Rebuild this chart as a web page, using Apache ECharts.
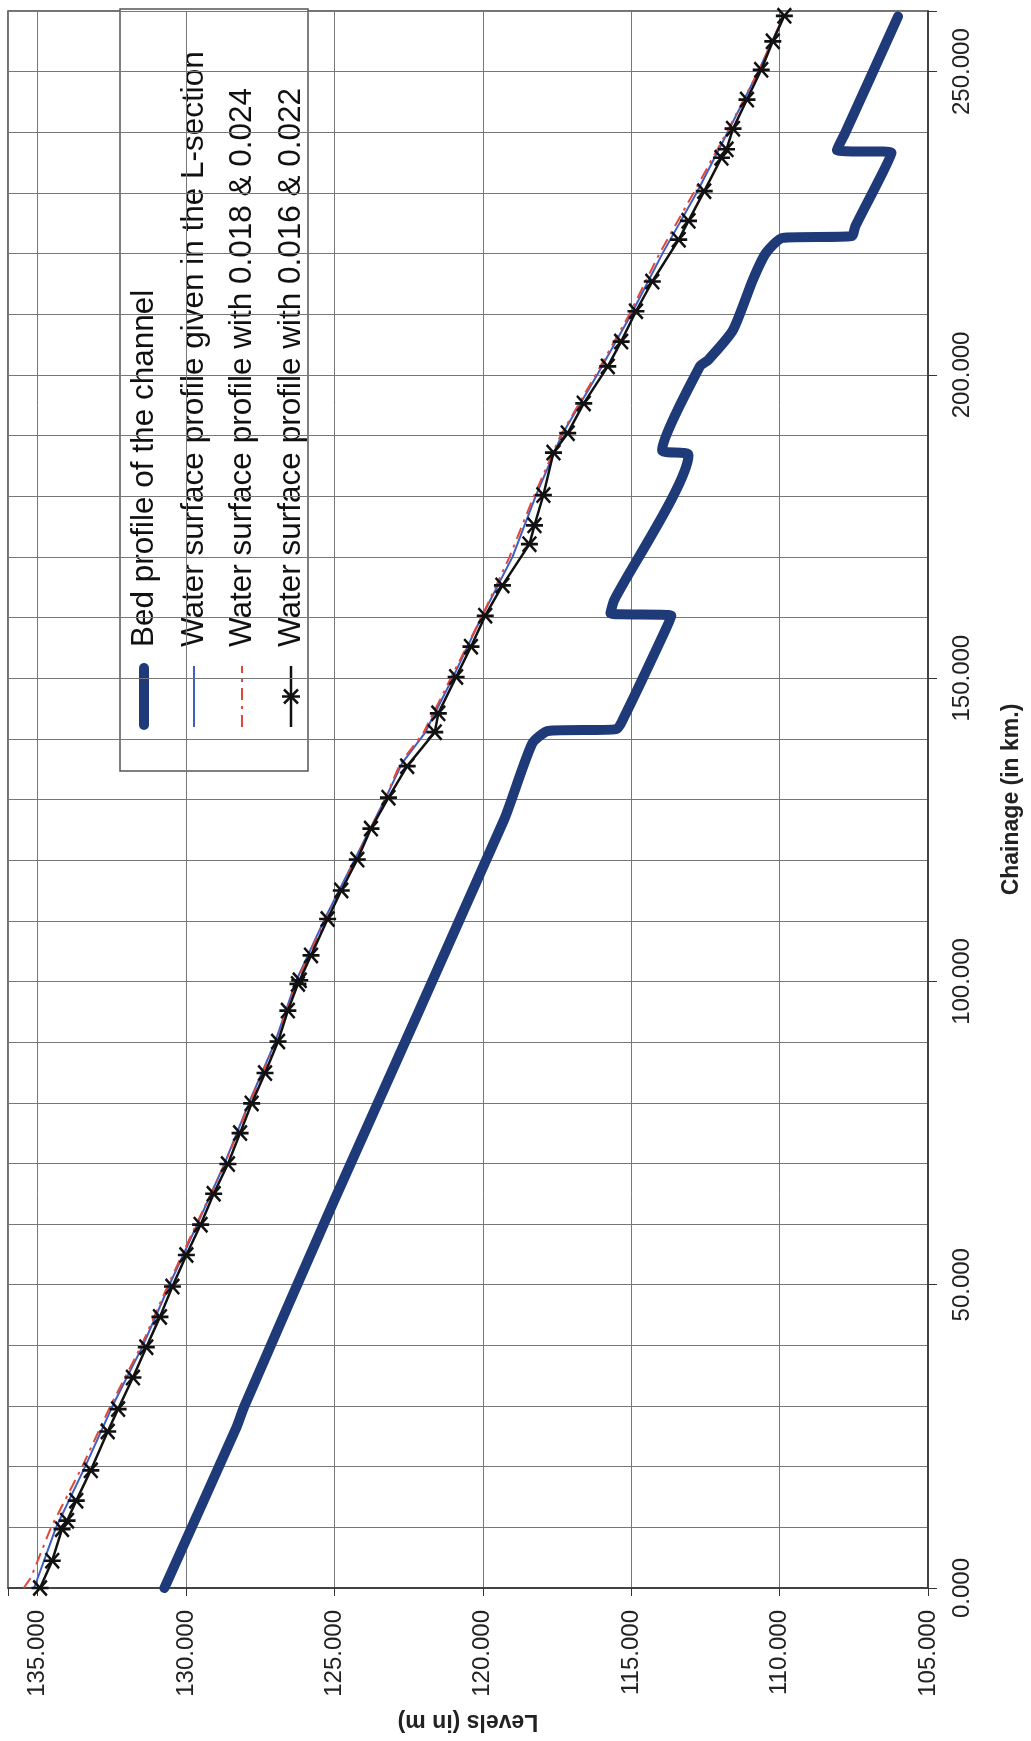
<!DOCTYPE html>
<html>
<head>
<meta charset="utf-8">
<script src="https://cdn.jsdelivr.net/npm/echarts@6/dist/echarts.min.js"></script>
<style>
  html, body { margin: 0; padding: 0; background: #fff; }
  #lsection { width: 1031px; height: 1741px; }
</style>
</head>
<body>
<div id="lsection"></div>
<script>
// chainage in km, levels in m
var bedChainage = [0, 26.5, 29.8, 63.9, 126.6, 139.2, 141.3, 141.6, 143.5, 157.4, 160.3, 160.7, 162.9, 186.8, 187.6, 201.4, 202.5, 207.4, 215.7, 220.1, 222.6, 222.9, 224.5, 236.6, 237.1, 239.9, 259.1]
var bedLevel = [130.73, 128.30, 128.05, 125.01, 119.29, 118.34, 117.80, 115.50, 115.25, 113.90, 113.65, 115.70, 115.57, 113.07, 113.96, 112.69, 112.40, 111.57, 110.90, 110.46, 109.90, 107.57, 107.45, 106.23, 108.07, 107.79, 106.01]

var givenChainage = [0, 10, 20, 30, 40, 50, 60, 70, 80, 90, 100, 110, 120, 130, 136, 141, 150, 160, 170, 180, 190, 200, 210, 220, 230, 240, 250, 259]
var givenLevel = [135.12, 134.38, 133.40, 132.48, 131.45, 130.56, 129.62, 128.70, 127.88, 127.00, 126.30, 125.36, 124.33, 123.30, 122.72, 121.95, 121.02, 120.05, 119.00, 118.22, 117.35, 116.15, 115.00, 113.95, 112.80, 111.75, 110.72, 109.88]

var run18Chainage = [0, 1.7, 10, 20, 30, 40, 50, 60, 70, 80, 90, 100, 110, 120, 130, 136, 141, 150, 160, 170, 180, 190, 200, 210, 220, 230, 240, 250, 259]
var run18Level = [135.47, 135.23, 134.55, 133.50, 132.55, 131.50, 130.60, 129.65, 128.68, 127.86, 126.98, 126.27, 125.33, 124.30, 123.30, 122.78, 122.00, 121.08, 120.05, 119.10, 118.28, 117.38, 116.20, 115.06, 114.05, 112.90, 111.78, 110.72, 109.88]

var run16Chainage = [0, 4.5, 9.7, 11.1, 14.4, 19.4, 25.8, 29.5, 34.7, 39.7, 44.7, 49.7, 54.9, 59.9, 65.0, 69.9, 75.0, 79.9, 84.9, 90.1, 95.2, 99.6, 100.2, 104.3, 110.3, 115.0, 120.1, 125.2, 130.3, 135.5, 141.1, 144.2, 150.2, 155.2, 160.3, 165.3, 172.1, 175.2, 180.2, 187.2, 190.4, 195.3, 201.4, 205.5, 210.5, 215.4, 222.3, 225.4, 230.3, 235.8, 237.2, 240.6, 245.4, 250.3, 255.0, 259.2]
var run16Level = [134.92, 134.51, 134.18, 134.01, 133.70, 133.21, 132.64, 132.29, 131.79, 131.34, 130.88, 130.46, 129.99, 129.51, 129.07, 128.59, 128.18, 127.79, 127.34, 126.90, 126.57, 126.23, 126.17, 125.79, 125.23, 124.77, 124.23, 123.77, 123.18, 122.55, 121.62, 121.50, 120.90, 120.40, 119.92, 119.34, 118.43, 118.26, 117.96, 117.62, 117.14, 116.60, 115.79, 115.34, 114.84, 114.29, 113.40, 113.07, 112.54, 111.96, 111.79, 111.57, 111.10, 110.62, 110.23, 109.84]

var seriesNames = [
  'Bed profile of the channel',
  'Water surface profile given in the L-section',
  'Water surface profile with 0.018 & 0.024',
  'Water surface profile with 0.016 & 0.022'
]

var levelMin = 105, levelMax = 136, levelStep = 5
var chainMax = 260, chainGrid = 10, chainStep = 50

// level goes on the horizontal axis, chainage up the page
function pairs(ch, lv) {
  return ch.map(function(c, i) { return [lv[i], c] })
}

// excel style star: an X with a bar through it
var starPath = 'path://M0 43L100 43L100 57L0 57Z M5 15L15 5L95 85L85 95Z M85 5L95 15L15 95L5 85Z'
var font = 'Liberation Sans, Arial, sans-serif'

var colBed = '#1e3a78'
var colGiven = '#3d5fc4'
var colRun18 = '#e0483a'
var colRun16 = '#111111'

function num3(v) { return v.toFixed(3) }

// legend drawn turned on its side like the scanned sheet
var legendRows = [24, 74, 122, 171]
var legendKids = [{
  type: 'rect',
  shape: { x: 0, y: 0, width: 762, height: 188 },
  style: { fill: '#fff', stroke: '#555', lineWidth: 1.5 }
}]
legendKids.push({ type: 'line', shape: { x1: 46, y1: legendRows[0], x2: 103, y2: legendRows[0] },
  style: { stroke: colBed, lineWidth: 10, lineCap: 'round' } })
legendKids.push({ type: 'line', shape: { x1: 44, y1: legendRows[1], x2: 105, y2: legendRows[1] },
  style: { stroke: colGiven, lineWidth: 2 } })
legendKids.push({ type: 'line', shape: { x1: 44, y1: legendRows[2], x2: 105, y2: legendRows[2] },
  style: { stroke: colRun18, lineWidth: 2, lineDash: [12, 6, 3, 6] } })
legendKids.push({ type: 'line', shape: { x1: 44, y1: legendRows[3], x2: 105, y2: legendRows[3] },
  style: { stroke: colRun16, lineWidth: 2.5 } })
var sc = 74.5, sr = legendRows[3]
legendKids.push({ type: 'line', shape: { x1: sc, y1: sr - 9, x2: sc, y2: sr + 9 }, style: { stroke: colRun16, lineWidth: 2.5 } })
legendKids.push({ type: 'line', shape: { x1: sc - 7, y1: sr - 7, x2: sc + 7, y2: sr + 7 }, style: { stroke: colRun16, lineWidth: 2.5 } })
legendKids.push({ type: 'line', shape: { x1: sc + 7, y1: sr - 7, x2: sc - 7, y2: sr + 7 }, style: { stroke: colRun16, lineWidth: 2.5 } })
seriesNames.forEach(function(n, i) {
  legendKids.push({
    type: 'text',
    x: 124, y: legendRows[i],
    style: { text: n, font: '31.5px ' + font, fill: '#111', verticalAlign: 'middle', align: 'left' }
  })
})

var chart = echarts.init(document.getElementById('lsection'))
chart.setOption({
  backgroundColor: '#fff',
  animation: false,
  textStyle: { fontFamily: font, color: '#222' },
  grid: {
    left: 8, right: 94, top: 11, bottom: 153,
    show: true, borderColor: '#444', borderWidth: 1.5
  },
  xAxis: {
    type: 'value',
    min: levelMin, max: levelMax, interval: levelStep,
    inverse: true,
    position: 'bottom',
    name: 'Levels (in m)',
    nameLocation: 'middle',
    nameRotate: 180,
    nameGap: 122,
    nameTextStyle: { fontSize: 23, fontWeight: 'bold', color: '#222' },
    axisLine: { show: true, lineStyle: { color: '#333', width: 1.5 } },
    axisTick: { show: true, length: 8, lineStyle: { color: '#333' } },
    axisLabel: {
      rotate: 90, fontSize: 24, margin: 22, color: '#222',
      formatter: function(v) { return v > 135 ? '' : num3(v) }
    },
    splitLine: { show: true, lineStyle: { color: '#777', width: 1 } }
  },
  yAxis: [{
    type: 'value',
    min: 0, max: chainMax, interval: chainGrid,
    position: 'right',
    axisLine: { show: true, lineStyle: { color: '#333', width: 1.5 } },
    axisTick: { show: false },
    axisLabel: { show: false },
    splitLine: { show: true, lineStyle: { color: '#777', width: 1 } }
  }, {
    type: 'value',
    min: 0, max: chainMax, interval: chainStep,
    position: 'right',
    name: 'Chainage (in km.)',
    nameLocation: 'middle',
    nameRotate: 90,
    nameGap: 72,
    nameTextStyle: { fontSize: 23, fontWeight: 'bold', color: '#222' },
    axisLine: { show: false },
    axisTick: { show: true, length: 9, lineStyle: { color: '#333' } },
    axisLabel: {
      rotate: 90, fontSize: 24, margin: 22, color: '#222',
      formatter: function(v) { return v > 250 ? '' : num3(v) }
    },
    splitLine: { show: false }
  }],
  graphic: [{
    type: 'group',
    x: 120, y: 771,
    rotation: Math.PI / 2,
    z: 100,
    children: legendKids
  }],
  series: [{
    name: seriesNames[0],
    type: 'line',
    data: pairs(bedChainage, bedLevel),
    symbol: 'none',
    smooth: 0.2,
    lineStyle: { color: colBed, width: 10, cap: 'round', join: 'round' },
    z: 2
  }, {
    name: seriesNames[1],
    type: 'line',
    data: pairs(givenChainage, givenLevel),
    symbol: 'none',
    lineStyle: { color: colGiven, width: 2 },
    z: 3
  }, {
    name: seriesNames[2],
    type: 'line',
    data: pairs(run18Chainage, run18Level),
    symbol: 'none',
    lineStyle: { color: colRun18, width: 2, type: [12, 6, 3, 6] },
    z: 3
  }, {
    name: seriesNames[3],
    type: 'line',
    data: pairs(run16Chainage, run16Level),
    symbol: starPath,
    symbolSize: 17,
    showAllSymbol: true,
    itemStyle: { color: colRun16 },
    lineStyle: { color: colRun16, width: 2.5 },
    z: 4
  }]
})
</script>
</body>
</html>
